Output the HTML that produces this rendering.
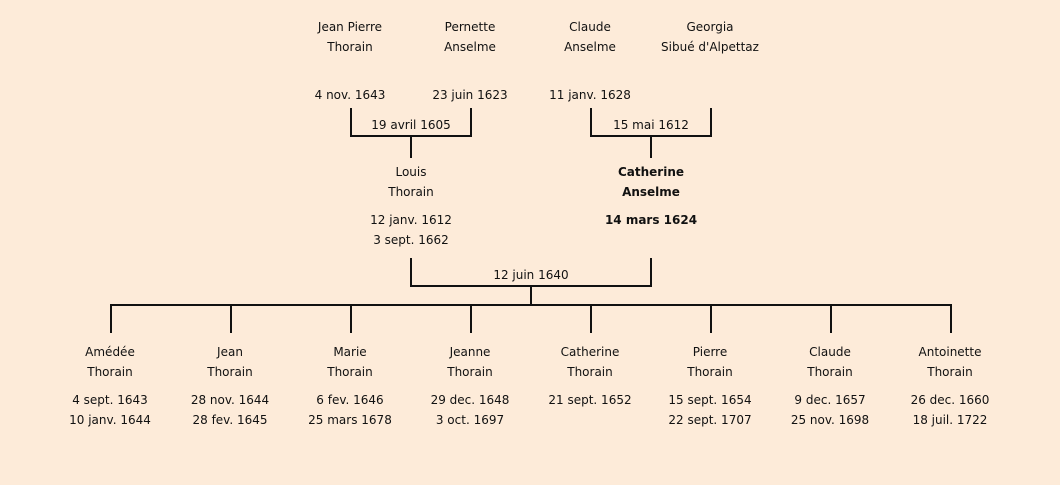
<!DOCTYPE html>
<html><head><meta charset="utf-8"><style>
html,body{margin:0;padding:0}
body{width:1060px;height:485px;background:#fdebd9;position:relative;overflow:hidden;font-family:"DejaVu Sans","Liberation Sans",sans-serif;font-size:12px;color:#111}
.t{position:absolute;width:200px;text-align:center;line-height:20px;height:20px;white-space:nowrap}
.b{font-weight:bold}
svg{position:absolute;left:0;top:0}
</style></head><body>
<svg width="1060" height="485" stroke="#111" stroke-width="2" fill="none">
<path d="M351 108V136H471V108M411 136V158"/>
<path d="M591 108V136H711V108M651 136V158"/>
<path d="M411 258V286H651V258M531 286V305"/>
<path d="M110 305H952"/>
<path d="M111 305V333M231 305V333M351 305V333M471 305V333M591 305V333M711 305V333M831 305V333M951 305V333"/>
</svg>
<div class="t" style="left:250px;top:17px">Jean Pierre</div><div class="t" style="left:250px;top:37px">Thorain</div>
<div class="t" style="left:370px;top:17px">Pernette</div><div class="t" style="left:370px;top:37px">Anselme</div>
<div class="t" style="left:490px;top:17px">Claude</div><div class="t" style="left:490px;top:37px">Anselme</div>
<div class="t" style="left:610px;top:17px">Georgia</div><div class="t" style="left:610px;top:37px">Sibué d'Alpettaz</div>
<div class="t" style="left:250px;top:85px">4 nov. 1643</div>
<div class="t" style="left:370px;top:85px">23 juin 1623</div>
<div class="t" style="left:490px;top:85px">11 janv. 1628</div>
<div class="t" style="left:311px;top:115px">19 avril 1605</div>
<div class="t" style="left:551px;top:115px">15 mai 1612</div>
<div class="t" style="left:311px;top:162px">Louis</div><div class="t" style="left:311px;top:182px">Thorain</div>
<div class="t" style="left:311px;top:210px">12 janv. 1612</div><div class="t" style="left:311px;top:230px">3 sept. 1662</div>
<div class="t b" style="left:551px;top:162px">Catherine</div><div class="t b" style="left:551px;top:182px">Anselme</div>
<div class="t b" style="left:551px;top:210px">14 mars 1624</div>
<div class="t" style="left:431px;top:265px">12 juin 1640</div>

<div class="t" style="left:10px;top:342px">Amédée</div><div class="t" style="left:10px;top:362px">Thorain</div>
<div class="t" style="left:10px;top:390px">4 sept. 1643</div><div class="t" style="left:10px;top:410px">10 janv. 1644</div>
<div class="t" style="left:130px;top:342px">Jean</div><div class="t" style="left:130px;top:362px">Thorain</div>
<div class="t" style="left:130px;top:390px">28 nov. 1644</div><div class="t" style="left:130px;top:410px">28 fev. 1645</div>
<div class="t" style="left:250px;top:342px">Marie</div><div class="t" style="left:250px;top:362px">Thorain</div>
<div class="t" style="left:250px;top:390px">6 fev. 1646</div><div class="t" style="left:250px;top:410px">25 mars 1678</div>
<div class="t" style="left:370px;top:342px">Jeanne</div><div class="t" style="left:370px;top:362px">Thorain</div>
<div class="t" style="left:370px;top:390px">29 dec. 1648</div><div class="t" style="left:370px;top:410px">3 oct. 1697</div>
<div class="t" style="left:490px;top:342px">Catherine</div><div class="t" style="left:490px;top:362px">Thorain</div>
<div class="t" style="left:490px;top:390px">21 sept. 1652</div>
<div class="t" style="left:610px;top:342px">Pierre</div><div class="t" style="left:610px;top:362px">Thorain</div>
<div class="t" style="left:610px;top:390px">15 sept. 1654</div><div class="t" style="left:610px;top:410px">22 sept. 1707</div>
<div class="t" style="left:730px;top:342px">Claude</div><div class="t" style="left:730px;top:362px">Thorain</div>
<div class="t" style="left:730px;top:390px">9 dec. 1657</div><div class="t" style="left:730px;top:410px">25 nov. 1698</div>
<div class="t" style="left:850px;top:342px">Antoinette</div><div class="t" style="left:850px;top:362px">Thorain</div>
<div class="t" style="left:850px;top:390px">26 dec. 1660</div><div class="t" style="left:850px;top:410px">18 juil. 1722</div>
</body></html>
